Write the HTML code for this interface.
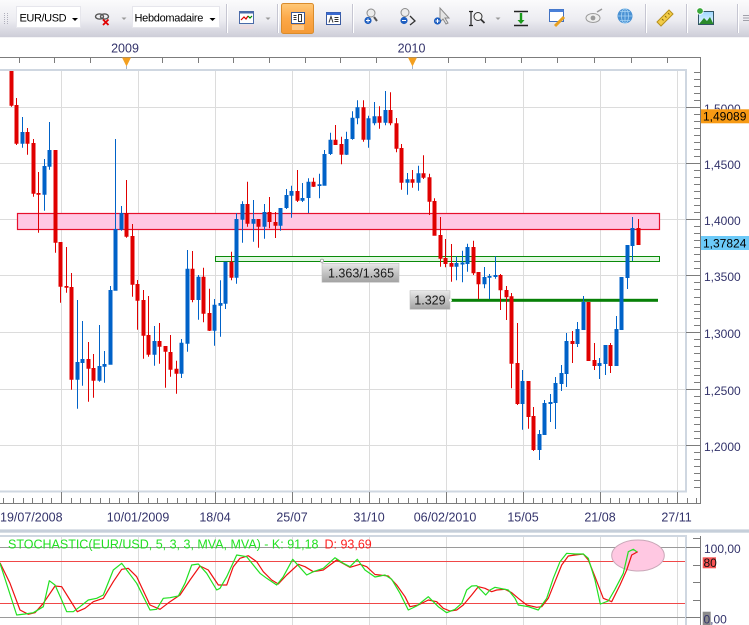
<!DOCTYPE html>
<html><head><meta charset="utf-8"><style>
html,body{margin:0;padding:0;background:#fff;}
svg{display:block;}
text{font-family:"Liberation Sans",Arial,sans-serif;}
</style></head><body>
<svg width="749" height="625" viewBox="0 0 749 625" xmlns="http://www.w3.org/2000/svg">
<defs>
<linearGradient id="tb" x1="0" y1="0" x2="0" y2="1"><stop offset="0" stop-color="#fbfbfc"/><stop offset="0.55" stop-color="#ececf1"/><stop offset="1" stop-color="#cdcdd8"/></linearGradient>
<linearGradient id="ob" x1="0" y1="0" x2="0" y2="1"><stop offset="0" stop-color="#ffc878"/><stop offset="0.5" stop-color="#fca848"/><stop offset="1" stop-color="#f59a36"/></linearGradient>
<linearGradient id="lb" x1="0" y1="0" x2="0" y2="1"><stop offset="0" stop-color="#e8e8e8"/><stop offset="1" stop-color="#a2a2a2"/></linearGradient>
<linearGradient id="sky" x1="0" y1="0" x2="0" y2="1"><stop offset="0" stop-color="#9fd8ff"/><stop offset="1" stop-color="#e8f6ff"/></linearGradient>
</defs>
<rect width="749" height="625" fill="#fff"/>

<rect x="0" y="0" width="749" height="37" fill="url(#tb)"/>
<line x1="0" y1="37.5" x2="749" y2="37.5" stroke="#f4f4f6"/>
<path d="M4.5 13v11M7.5 13v11" stroke="#b0b0bc" stroke-dasharray="1 1"/>
<rect x="16.5" y="6.5" width="64" height="21" fill="#fff" stroke="#e6e6ec"/>
<text x="19.5" y="21.5" font-size="11" letter-spacing="-0.4" fill="#000">EUR/USD</text>
<path d="M72 18h6l-3 3z" fill="#000"/>
<ellipse cx="99.5" cy="16.5" rx="4" ry="2.6" fill="none" stroke="#555" stroke-width="1.4"/>
<ellipse cx="104.5" cy="16.5" rx="4" ry="2.6" fill="none" stroke="#555" stroke-width="1.4"/>
<path d="M103 19.5l5.5 5.5M108.5 19.5l-5.5 5.5" stroke="#e00000" stroke-width="1.8"/>
<path d="M121.5 17.5h5l-2.5 2.5z" fill="#999"/>
<rect x="132.5" y="6.5" width="87" height="21" fill="#fff" stroke="#e6e6ec"/>
<text x="134.5" y="21.5" font-size="11" letter-spacing="-0.3" fill="#000">Hebdomadaire</text>
<path d="M209.5 18h6l-3 3z" fill="#000"/>
<path d="M226.5 4v29M277.5 4v29M352.5 4v29M645.5 4v29M686.5 4v29M737.5 4v29" stroke="#c6c6d2"/>
<path d="M227.5 4v29M278.5 4v29M353.5 4v29M646.5 4v29M687.5 4v29M738.5 4v29" stroke="#fff"/>
<rect x="239.5" y="11.5" width="14" height="12" fill="#fff" stroke="#4a6aa8"/>
<rect x="239.5" y="11.5" width="14" height="2" fill="#4a6aa8"/>
<path d="M241 20l3-3 2 2 2-3" stroke="#d00" fill="none" stroke-width="1.2"/>
<path d="M248 16l2 2 2-2" stroke="#080" fill="none" stroke-width="1.2"/>
<rect x="240" y="25" width="13" height="4" fill="#f0d8dc" opacity="0.6"/>
<path d="M265.5 17.5h5l-2.5 2.5z" fill="#999"/>
<rect x="281.5" y="3.5" width="32" height="30" rx="2" fill="url(#ob)" stroke="#d98c2c"/>
<rect x="291.5" y="12.5" width="13" height="11" fill="#fff" stroke="#3a5a9a"/>
<path d="M293.5 15.5h3M293.5 17.5h3M293.5 19.5h3M298.5 14.5v7h3v-7z" stroke="#333" fill="none"/>
<rect x="292" y="25" width="12" height="5" fill="#ffd8a8" opacity="0.7"/>
<rect x="326.5" y="12.5" width="14" height="12" fill="#fff" stroke="#3a5aa0"/>
<rect x="326.5" y="12.5" width="14" height="2.5" fill="#3a6ad0"/>
<path d="M329 22.5l2-6 2 6M334.5 17.5h4M334.5 19.5h4M334.5 21.5h4" stroke="#333" fill="none"/>
<circle cx="371" cy="13" r="4" fill="#ececec" stroke="#8a8a8a"/>
<path d="M374 17l3 4" stroke="#555" stroke-width="2"/>
<circle cx="368" cy="20.5" r="3.6" fill="#1f5fc0"/>
<path d="M366 20.5h4M368 18.5v4" stroke="#fff"/>
<circle cx="405" cy="12.5" r="4" fill="#ececec" stroke="#8a8a8a"/>
<circle cx="404" cy="20.5" r="3.6" fill="#1f5fc0"/>
<path d="M402 20.5h4" stroke="#fff"/>
<path d="M410 16l5 5-5 4" stroke="#333" fill="none" stroke-width="1.3"/>
<path d="M440 8v14l3-3 3 5 2-1-3-5h4z" fill="#e4e4e4" stroke="#888"/>
<circle cx="437.5" cy="21" r="3.6" fill="#1f5fc0"/>
<path d="M435.5 21h4M437.5 19v4" stroke="#fff"/>
<path d="M469 11.5h4M469 25.5h4M471 11.5v14" stroke="#222" stroke-width="1.2"/>
<circle cx="478" cy="16.5" r="4" fill="#f4f4f4" stroke="#333"/>
<path d="M481 19.5l3.5 3.5" stroke="#333" stroke-width="1.8"/>
<path d="M495.5 17.5h5l-2.5 2.5z" fill="#999"/>
<path d="M514 11.5h14M514 25.5h14" stroke="#222" stroke-width="1.6"/>
<path d="M521 13v8" stroke="#1a9a1a" stroke-width="2.4"/>
<path d="M517.5 20h7l-3.5 4z" fill="#1a9a1a"/>
<rect x="549.5" y="9.5" width="14" height="12" fill="#fff" stroke="#4070c0"/>
<rect x="549.5" y="9.5" width="14" height="2.5" fill="#4a80d8"/>
<path d="M555 26l9-9" stroke="#e8a020" stroke-width="3"/>
<ellipse cx="593" cy="18" rx="7" ry="4.5" fill="#eee" stroke="#9a9a9a"/>
<circle cx="593" cy="18" r="2.4" fill="#9a9a9a"/>
<path d="M597 12l5-3" stroke="#999" stroke-width="1.5"/>
<circle cx="625" cy="16" r="7.5" fill="#4a92d4"/>
<path d="M618 16h14M625 8.5v15M620 11.5h10M620 20.5h10" stroke="#a8d4f4" stroke-width="0.8"/>
<ellipse cx="625" cy="16" rx="3.5" ry="7.5" fill="none" stroke="#a8d4f4" stroke-width="0.8"/>
<path d="M657 22l12-12 4 4-12 12z" fill="#f2cc48" stroke="#b8901c"/>
<path d="M662 19l1.5 1.5M665 16l1.5 1.5M668 13l1.5 1.5" stroke="#8a6a10"/>
<rect x="698.5" y="11.5" width="15" height="13" fill="url(#sky)" stroke="#356"/>
<path d="M699 24l5-6 3 3 3-4 3.5 7z" fill="#2a8a2a"/>
<circle cx="700" cy="11" r="3.3" fill="#3aa83a" stroke="#fff" stroke-width="0.8"/>
<path d="M743 15.5h6M743 18h6M743 20.5h6" stroke="#a0a0aa"/>

<text x="125" y="52.5" font-size="12.5" fill="#33336b" text-anchor="middle">2009</text>
<text x="411.5" y="52.5" font-size="12.5" fill="#33336b" text-anchor="middle">2010</text>
<path d="M0 57.5H700.5V503.5H0" stroke="#7c7c7c" fill="none"/>
<path d="M19.5 57.5v5.5M54.5 57.5v5.5M90.5 57.5v5.5M126.5 57.5v5.5M162.5 57.5v5.5M198.5 57.5v5.5M233.5 57.5v5.5M269.5 57.5v5.5M305.5 57.5v5.5M340.5 57.5v5.5M376.5 57.5v5.5M412.5 57.5v5.5M448.5 57.5v5.5M485.5 57.5v5.5M521.5 57.5v5.5M557.5 57.5v5.5M594.5 57.5v5.5M631.5 57.5v5.5M667.5 57.5v5.5" stroke="#7c7c7c"/>
<path d="M126.5 66v4M412.5 66v4" stroke="#a4b4cc"/>
<path d="M122 57.5h9l-4.5 9z" fill="#f4a020"/>
<path d="M408 57.5h9l-4.5 9z" fill="#f4a020"/>

<path d="M61.5 71V491M138.5 71V491M215.5 71V491M292.5 71V491M369.5 71V491M446.5 71V491M523.5 71V491M600.5 71V491M677.5 71V491" stroke="#dcdcdc"/>
<path d="M0 107.5H685M0 163.5H685M0 219.5H685M0 275.5H685M0 332.5H685M0 389.5H685M0 445.5H685" stroke="#dcdcdc"/>
<rect x="-2" y="70" width="688" height="421.5" fill="none" stroke="#cfd7e1" stroke-width="2"/>

<path d="M686 107.5h14M686 163.5h14M686 219.5h14M686 275.5h14M686 332.5h14M686 389.5h14M686 445.5h14" stroke="#7c7c7c"/>
<path d="M694 72.5h6M694 79.5h6M694 86.5h6M694 93.5h6M694 100.5h6M694 114.5h6M694 121.5h6M694 128.5h6M694 135.5h6M694 142.5h6M694 149.5h6M694 156.5h6M694 170.5h6M694 177.5h6M694 184.5h6M694 191.5h6M694 198.5h6M694 205.5h6M694 212.5h6M694 226.5h6M694 233.5h6M694 240.5h6M694 247.5h6M694 254.5h6M694 261.5h6M694 268.5h6M694 282.5h6M694 289.5h6M694 297.5h6M694 304.5h6M694 311.5h6M694 318.5h6M694 325.5h6M694 339.5h6M694 346.5h6M694 353.5h6M694 361.5h6M694 368.5h6M694 375.5h6M694 382.5h6M694 396.5h6M694 403.5h6M694 410.5h6M694 417.5h6M694 424.5h6M694 431.5h6M694 438.5h6M694 452.5h6M694 459.5h6M694 466.5h6M694 473.5h6M694 480.5h6M694 487.5h6" stroke="#7c7c7c"/>
<g font-size="12" fill="#33336b">
<text x="704" y="113">1,5000</text>
<text x="704" y="169">1,4500</text>
<text x="704" y="225">1,4000</text>
<text x="704" y="281">1,3500</text>
<text x="704" y="338">1,3000</text>
<text x="704" y="395">1,2500</text>
<text x="704" y="451">1,2000</text>
</g>
<rect x="701" y="109.3" width="48" height="14" fill="#f79a14"/>
<text x="703" y="120.5" font-size="12" fill="#000">1,49089</text>
<rect x="701" y="236" width="48" height="14" fill="#6ccaf8"/>
<text x="703" y="247.5" font-size="12" fill="#000">1,37824</text>

<path d="M61.5 492v11.5M138.5 492v11.5M215.5 492v11.5M292.5 492v11.5M369.5 492v11.5M446.5 492v11.5M523.5 492v11.5M600.5 492v11.5M677.5 492v11.5" stroke="#7c7c7c"/>
<path d="M3.5 498v5.5M13.5 498v5.5M23.5 498v5.5M32.5 498v5.5M42.5 498v5.5M51.5 498v5.5M71.5 498v5.5M80.5 498v5.5M90.5 498v5.5M100.5 498v5.5M109.5 498v5.5M119.5 498v5.5M128.5 498v5.5M148.5 498v5.5M157.5 498v5.5M167.5 498v5.5M177.5 498v5.5M186.5 498v5.5M196.5 498v5.5M205.5 498v5.5M225.5 498v5.5M234.5 498v5.5M244.5 498v5.5M254.5 498v5.5M263.5 498v5.5M273.5 498v5.5M282.5 498v5.5M302.5 498v5.5M311.5 498v5.5M321.5 498v5.5M331.5 498v5.5M340.5 498v5.5M350.5 498v5.5M359.5 498v5.5M379.5 498v5.5M388.5 498v5.5M398.5 498v5.5M408.5 498v5.5M417.5 498v5.5M427.5 498v5.5M436.5 498v5.5M456.5 498v5.5M465.5 498v5.5M475.5 498v5.5M485.5 498v5.5M494.5 498v5.5M504.5 498v5.5M513.5 498v5.5M533.5 498v5.5M542.5 498v5.5M552.5 498v5.5M562.5 498v5.5M571.5 498v5.5M581.5 498v5.5M590.5 498v5.5M610.5 498v5.5M619.5 498v5.5M629.5 498v5.5M639.5 498v5.5M648.5 498v5.5M658.5 498v5.5M667.5 498v5.5M687.5 498v5.5M696.5 498v5.5" stroke="#7c7c7c"/>
<g font-size="12.5" fill="#33336b" text-anchor="middle">
<text x="0" y="521.5" text-anchor="start">19/07/2008</text>
<text x="138" y="521.5">10/01/2009</text>
<text x="215" y="521.5">18/04</text>
<text x="292" y="521.5">25/07</text>
<text x="369" y="521.5">31/10</text>
<text x="445" y="521.5">06/02/2010</text>
<text x="523" y="521.5">15/05</text>
<text x="600" y="521.5">21/08</text>
<text x="676.5" y="521.5">27/11</text>
</g>

<rect x="17.5" y="213.5" width="642" height="16" fill="#ffc8e4" stroke="#e6102c" stroke-width="1.2"/>
<rect x="215.5" y="256.5" width="444" height="5" fill="#e2f8e2" stroke="#0a8a0a"/>
<rect x="451" y="298.8" width="207" height="3" fill="#078007"/>

<path fill="#e00000" d="M11 71h1V106.7h-1Z M9.5 71h4V105.7h-4Z M16 98h1V145h-1Z M14.5 105h4V143.7h-4Z M27 128h1V154.7h-1Z M25.5 132h4V143.7h-4Z M33 139h1V196.7h-1Z M31.5 143h4V193.7h-4Z M38 172h1V232.7h-1Z M36.5 193h4V194.7h-4Z M55 150h1V252.7h-1Z M53.5 150h4V242.7h-4Z M60 242h1V302.7h-1Z M58.5 242h4V286.7h-4Z M66 247h1V292.7h-1Z M64.5 286h4V287.7h-4Z M71 273h1V389.7h-1Z M69.5 287h4V379.7h-4Z M88 342h1V401.7h-1Z M86.5 359h4V368.7h-4Z M93 354h1V397.7h-1Z M91.5 368h4V380.7h-4Z M126 180h1V237.7h-1Z M124.5 213h4V236.7h-4Z M132 224h1V296.7h-1Z M130.5 236h4V284.7h-4Z M137 280h1V329.7h-1Z M135.5 284h4V300.7h-4Z M143 290h1V358.7h-1Z M141.5 300h4V335.7h-4Z M148 296h1V356.7h-1Z M146.5 335h4V354.7h-4Z M159 323h1V363.7h-1Z M157.5 341h4V346.7h-4Z M165 346h1V387.7h-1Z M163.5 346h4V351.7h-4Z M170 335h1V376.7h-1Z M168.5 352h4V369.7h-4Z M176 360.7h1V393.7h-1Z M174.5 368.7h4V373.7h-4Z M192 251h1V302.3h-1Z M190.5 268.7h4V300h-4Z M203 267.7h1V322.3h-1Z M201.5 276.7h4V313.7h-4Z M209 288.7h1V331h-1Z M207.5 313h4V330.7h-4Z M231 251.7h1V280.3h-1Z M229.5 261.7h4V277.7h-4Z M247 181.7h1V226.7h-1Z M245.5 204h4V223.7h-4Z M258 219h1V247.7h-1Z M256.5 219h4V226.7h-4Z M269 197h1V228.3h-1Z M267.5 212h4V222h-4Z M275 212h1V238h-1Z M273.5 222h4V225.7h-4Z M297 170h1V202h-1Z M295.5 191h4V200.7h-4Z M313 177.7h1V187h-1Z M311.5 181.7h4V186.7h-4Z M335 125h1V145h-1Z M333.5 139.7h4V145h-4Z M341 136.7h1V164.3h-1Z M339.5 144h4V154.7h-4Z M363 100.3h1V141.7h-1Z M361.5 107.3h4V139.7h-4Z M379 106.3h1V128.7h-1Z M377.5 116.3h4V122.7h-4Z M390 92.3h1V125.3h-1Z M388.5 110h4V123.3h-4Z M396 118h1V152.3h-1Z M394.5 123.3h4V148.7h-4Z M401 144h1V189.7h-1Z M399.5 148h4V182.7h-4Z M412 170h1V187.7h-1Z M410.5 179.3h4V182.7h-4Z M423 155.3h1V179h-1Z M421.5 173.3h4V177.7h-4Z M429 173.7h1V215h-1Z M427.5 177.3h4V201.7h-4Z M434 198.3h1V235.7h-1Z M432.5 201h4V235.7h-4Z M440 217h1V266.7h-1Z M438.5 235h4V258.7h-4Z M445 239h1V267.3h-1Z M443.5 258h4V264h-4Z M451 244h1V281.7h-1Z M449.5 263h4V266.7h-4Z M473 240.7h1V275h-1Z M471.5 247h4V273.3h-4Z M478 272h1V299.3h-1Z M476.5 272h4V284.3h-4Z M500 274h1V310h-1Z M498.5 275h4V290.3h-4Z M506 286h1V320h-1Z M504.5 290h4V297.3h-4Z M511 293h1V388.3h-1Z M509.5 296.3h4V363.7h-4Z M517 323h1V405h-1Z M515.5 363h4V404h-4Z M528 381h1V428.7h-1Z M526.5 381h4V417h-4Z M533 407h1V451h-1Z M531.5 416h4V450h-4Z M572 331h1V363h-1Z M570.5 341h4V344h-4Z M588 302h1V361h-1Z M586.5 302h4V361h-4Z M594 343h1V370h-1Z M592.5 360h4V366h-4Z M610 343h1V373h-1Z M608.5 345h4V366h-4Z M638 219h1V245h-1Z M636.5 228h4V245h-4Z"/>
<path fill="#0062c8" d="M22 117h1V147.7h-1Z M20.5 132h4V143.7h-4Z M44 159h1V210.7h-1Z M42.5 166h4V194.7h-4Z M49 122h1V169.7h-1Z M47.5 150h4V166.7h-4Z M77 300h1V408.7h-1Z M75.5 362h4V379.7h-4Z M82 321h1V385.7h-1Z M80.5 359h4V363h-4Z M99 325h1V381.7h-1Z M97.5 366h4V380.7h-4Z M104 351h1V382.7h-1Z M102.5 364h4V366.7h-4Z M110 286h1V364.7h-1Z M108.5 290h4V364.7h-4Z M115 139h1V290.7h-1Z M113.5 229h4V290.7h-4Z M121 206h1V230.7h-1Z M119.5 213h4V229.7h-4Z M154 326h1V365.7h-1Z M152.5 341h4V354.7h-4Z M181 339h1V378h-1Z M179.5 342.7h4V373.7h-4Z M187 250h1V351.7h-1Z M185.5 268.7h4V343.7h-4Z M198 275h1V319.7h-1Z M196.5 276.7h4V300h-4Z M214 299h1V345.7h-1Z M212.5 304.7h4V330.7h-4Z M220 280.3h1V336.7h-1Z M218.5 303h4V305.7h-4Z M225 261.7h1V309h-1Z M223.5 261.7h4V303.7h-4Z M236 213.3h1V283.7h-1Z M234.5 219h4V277.7h-4Z M242 201.3h1V242.7h-1Z M240.5 204h4V219.7h-4Z M253 200h1V241.7h-1Z M251.5 219h4V223.7h-4Z M264 204h1V238.7h-1Z M262.5 212h4V226.7h-4Z M280 208h1V230.7h-1Z M278.5 208h4V225.7h-4Z M286 189h1V209h-1Z M284.5 195h4V208h-4Z M291 185.7h1V217.7h-1Z M289.5 191h4V195.7h-4Z M302 183h1V202h-1Z M300.5 198h4V200.7h-4Z M308 178.3h1V213h-1Z M306.5 181.7h4V198h-4Z M319 173.7h1V198.3h-1Z M317.5 184.3h4V186h-4Z M324 150h1V185.7h-1Z M322.5 154h4V185.7h-4Z M330 132.7h1V155h-1Z M328.5 139.7h4V154h-4Z M346 131.7h1V155h-1Z M344.5 139h4V154.7h-4Z M352 111.3h1V139.7h-1Z M350.5 117.7h4V139h-4Z M357 100.3h1V124.3h-1Z M355.5 107.3h4V118.3h-4Z M368 115.7h1V147.7h-1Z M366.5 118.3h4V139.7h-4Z M374 102h1V125.3h-1Z M372.5 116.3h4V123.3h-4Z M385 91h1V125.3h-1Z M383.5 110h4V122.7h-4Z M407 173h1V194.7h-1Z M405.5 179.3h4V182.7h-4Z M418 165.7h1V190.7h-1Z M416.5 173.3h4V182.7h-4Z M456 256.3h1V280.3h-1Z M454.5 263h4V266.7h-4Z M462 250.7h1V282.3h-1Z M460.5 262.5h4V264.5h-4Z M467 243.7h1V271.7h-1Z M465.5 247h4V264h-4Z M484 267h1V288.3h-1Z M482.5 277h4V284.3h-4Z M489 274h1V299.3h-1Z M487.5 276h4V277.7h-4Z M495 256.3h1V278.7h-1Z M493.5 275h4V277h-4Z M522 370h1V429.7h-1Z M520.5 381h4V404h-4Z M539 430h1V460h-1Z M537.5 434h4V450h-4Z M544 400h1V435h-1Z M542.5 403h4V435h-4Z M550 394h1V422h-1Z M548.5 402h4V404h-4Z M555 377h1V429h-1Z M553.5 383h4V403h-4Z M561 365h1V391h-1Z M559.5 373h4V384h-4Z M566 333h1V387h-1Z M564.5 341h4V374h-4Z M577 322h1V347h-1Z M575.5 329h4V344h-4Z M583 296h1V330h-1Z M581.5 302h4V330h-4Z M599 358h1V379h-1Z M597.5 363h4V366h-4Z M605 345h1V375h-1Z M603.5 345h4V364h-4Z M616 316h1V366h-1Z M614.5 329h4V366h-4Z M621 277h1V330h-1Z M619.5 277h4V330h-4Z M627 245h1V289h-1Z M625.5 245h4V278h-4Z M632 217h1V261h-1Z M630.5 228h4V246h-4Z"/>

<circle cx="322" cy="260.7" r="1.6" fill="#fff" stroke="#999" stroke-width="0.8"/>
<rect x="322" y="263.3" width="77" height="19" fill="url(#lb)" stroke="#bdbdbd" stroke-width="0.6"/>
<text x="328" y="277.3" font-size="12.5" fill="#1a1a1a">1.363/1.365</text>
<rect x="410" y="290.7" width="40" height="18.6" fill="url(#lb)" stroke="#bdbdbd" stroke-width="0.6"/>
<text x="414.3" y="304.5" font-size="12.5" fill="#1a1a1a">1.329</text>
<circle cx="450.5" cy="300.3" r="1.4" fill="#fff"/>

<rect x="0" y="529.4" width="749" height="3.3" fill="#c6cfda"/>

<path d="M61.5 537V625M138.5 537V625M215.5 537V625M292.5 537V625M369.5 537V625M446.5 537V625M523.5 537V625M600.5 537V625M677.5 537V625" stroke="#dcdcdc"/>
<path d="M-2 536H686V627" stroke="#cfd7e1" stroke-width="2" fill="none"/>
<path d="M0 547.5H685M0 617.5H685" stroke="#9a9a9a"/>
<path d="M0 561.5H685M0 603.5H685" stroke="#f04848"/>
<ellipse cx="638" cy="555.5" rx="26.3" ry="15.5" fill="#ffc8e2" stroke="#c9a8b8"/>
<polyline fill="none" stroke="#ee1111" stroke-width="1.2" stroke-linejoin="round" points="0,562.7 10,583.3 20,610 28.3,614.3 35,612.7 43.3,603.3 55,586 61.7,586.7 70,600 77.3,611.7 85,608.3 93.3,601.7 103.3,598.3 113.3,581.7 121.7,569.3 128.3,568.3 136.7,576.7 150,605 160,609.3 170,601.7 180,595 190,580 200,566 208.3,570 218.3,585 226.7,585 233.3,566.7 240,558.3 248.3,555.7 256.7,561.7 263.3,571.7 271.7,580 278.3,584 286.7,575 298.3,564.3 305,566.7 313.3,571.7 323.3,570 336.7,560 350,567.3 360,564.3 366.7,566.7 375,574.5 388.3,576 396.7,585 405,596.7 410,606.7 418.3,605 428.3,600 436.7,601.7 443.3,608.3 450,611 456.7,610 463.3,605 471.7,595 478.3,586.7 485,588.3 491.7,591.7 496.7,590 505,589.3 511.7,592.7 518.3,598.3 526.7,605 536.7,607.3 541.7,606.7 548.3,598.3 555,581.7 561.7,565 568.3,556 575,555 583.3,554 588.3,560 595,576.7 603.3,598.3 611.7,601.7 620,585 626.7,570 631.7,555 637.7,551.7"/>
<polyline fill="none" stroke="#22e022" stroke-width="1.2" stroke-linejoin="round" points="0,563.3 16.7,615 25,614 33.3,612.7 43.3,606.7 49.3,580.7 55,585 61.7,600 66.7,611.7 73.3,611.7 80,606.7 88.3,600 96.7,598.3 103.3,595 113.3,570 121.7,563.3 126.7,570 136.7,583.3 150,610 156.7,609.3 163.3,598.3 170,597.7 178.3,596 185,583.3 191.7,565 198.3,564 206.7,573.3 216.7,590 220,588.3 226.7,576.7 236.7,555 246.7,556.7 253.3,565 260,573.3 266.7,578.3 276.7,585 283.3,576.7 292.7,559.3 299.3,566.7 306.7,575 313.3,571.7 323.3,568.3 335,557.7 343.3,563.3 350,566.7 357.3,559.3 365,570 375,577 385,575 391.7,579.3 400,593.3 408.3,610 416.7,606 428.3,596.7 433.3,601.7 438.3,606.7 446.7,612.7 455,609.3 461.7,603.3 466.7,590 471.7,586 476.7,585.7 485.7,595 490,590 495,587.3 508.3,590 515,598.3 518.3,605 528.3,606.7 538.3,610 546.7,598.3 553.3,578.3 560,561.7 566.7,553.3 575,554 583.3,554 588.3,558.3 595,580 600.3,604 608.3,601 615,589.3 623.3,573.3 628.3,551.7 633.3,549.3 636.7,551.7"/>
<text x="8" y="548.5" font-size="12.5"><tspan fill="#22e022">STOCHASTIC(EUR/USD, 5, 3, 3, MVA, MVA) -  K: 91,18</tspan><tspan fill="#ff2020" dx="6">D: 93,69</tspan></text>
<path d="M700.5 536V625" stroke="#7c7c7c"/>
<path d="M693 538.5h7M686 547.5h14M693 565.5h7M693 582.5h7M693 600.5h7M686 617.5h14" stroke="#7c7c7c"/>
<text x="704" y="553" font-size="12" fill="#33336b">100,00</text>
<rect x="702.7" y="557.3" width="13.3" height="11" fill="#f85454"/>
<text x="703.5" y="567" font-size="12" fill="#111">80</text>
<rect x="702.7" y="611.7" width="8" height="13.3" fill="#8a8a8a"/>
<text x="703.5" y="623.5" font-size="12" fill="#33336b">0,00</text>
</svg>
</body></html>
